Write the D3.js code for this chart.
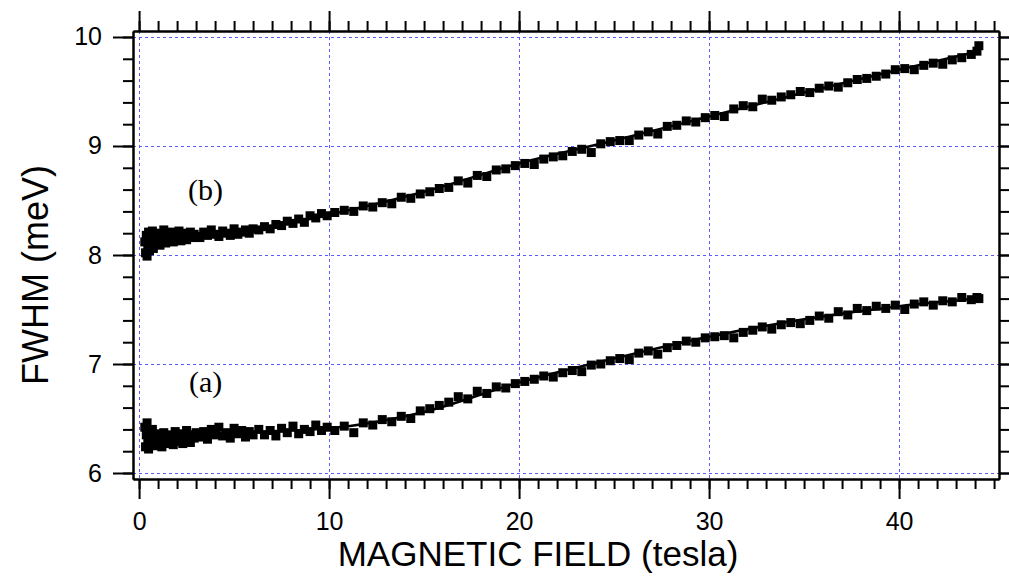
<!DOCTYPE html>
<html>
<head>
<meta charset="utf-8">
<script src="https://cdn.jsdelivr.net/npm/d3@7"></script>
<style>
  body { margin: 0; background: #fff; }
  text { font-family: "Liberation Sans", Arial, sans-serif; }
</style>
</head>
<body>
<svg id="chart" width="1009" height="577"></svg>
<script>
// magnetic field (tesla) for each measured point
const field = [
  0.30,0.34,0.38,0.42,0.46,0.50,0.55,0.60,0.65,0.70,0.75,0.80,0.90,1.00,1.10,1.20,1.30,1.40,1.50,1.60,
  1.70,1.80,1.90,2.00,2.10,2.20,2.30,2.40,2.50,2.60,2.70,2.80,2.90,3.00,
  3.2,3.4,3.6,3.8,4.0,4.2,4.4,4.6,4.8,5.0,5.2,5.4,5.6,5.8,6.0,
  6.3,6.6,6.9,7.2,7.5,7.8,8.1,8.4,8.7,9.0,9.3,9.6,9.9,
  10.3,10.8,11.3,11.8,12.3,12.8,13.3,13.8,14.3,14.8,15.3,15.8,16.3,16.8,17.3,17.8,18.3,18.8,19.3,19.8,
  20.3,20.8,21.3,21.8,22.3,22.8,23.3,23.8,24.3,24.8,25.3,25.8,26.3,26.8,27.3,27.8,28.3,28.8,29.3,29.8,
  30.3,30.8,31.3,31.8,32.3,32.8,33.3,33.8,34.3,34.8,35.3,35.8,36.3,36.8,37.3,37.8,38.3,38.8,39.3,39.8,
  40.3,40.8,41.3,41.8,42.3,42.8,43.3,43.8,44.1,44.2
];

// (a) FWHM (meV)
const fwhmA = [
  6.42,6.24,6.35,6.46,6.28,6.22,6.38,6.31,6.26,6.40,6.33,6.25,6.36,6.29,6.34,6.24,6.37,6.30,6.27,6.35,
  6.32,6.26,6.38,6.31,6.29,6.36,6.27,6.33,6.39,6.30,6.28,6.35,6.32,6.37,
  6.33,6.38,6.31,6.40,6.35,6.42,6.34,6.37,6.32,6.41,6.36,6.39,6.33,6.38,6.35,
  6.40,6.35,6.39,6.34,6.41,6.37,6.43,6.36,6.40,6.38,6.44,6.39,6.42,
  6.39,6.43,6.37,6.46,6.44,6.49,6.47,6.52,6.50,6.57,6.59,6.62,6.65,6.70,6.68,6.75,6.73,6.79,6.78,6.82,
  6.84,6.86,6.89,6.88,6.92,6.94,6.93,6.99,7.00,7.03,7.05,7.04,7.10,7.12,7.09,7.15,7.17,7.21,7.20,7.24,
  7.25,7.26,7.24,7.29,7.31,7.34,7.32,7.36,7.38,7.37,7.40,7.44,7.42,7.48,7.45,7.51,7.49,7.53,7.51,7.54,
  7.50,7.55,7.57,7.54,7.58,7.57,7.61,7.59,7.61,7.60
];

// (b) FWHM (meV)
const fwhmB = [
  8.12,8.02,8.18,7.99,8.08,8.21,8.04,8.15,8.10,8.22,8.06,8.17,8.13,8.20,8.09,8.16,8.23,8.11,8.18,8.14,
  8.21,8.12,8.19,8.15,8.22,8.13,8.17,8.20,8.14,8.18,8.21,8.16,8.19,8.17,
  8.16,8.21,8.18,8.23,8.19,8.17,8.22,8.20,8.18,8.24,8.19,8.21,8.23,8.20,8.24,
  8.23,8.26,8.24,8.28,8.27,8.31,8.29,8.33,8.30,8.36,8.34,8.38,8.36,
  8.39,8.41,8.40,8.45,8.44,8.48,8.47,8.53,8.52,8.56,8.58,8.61,8.62,8.68,8.66,8.73,8.72,8.78,8.79,8.82,
  8.84,8.83,8.88,8.90,8.91,8.95,8.97,8.94,9.02,9.04,9.05,9.05,9.10,9.13,9.11,9.18,9.19,9.23,9.22,9.26,
  9.28,9.27,9.34,9.37,9.36,9.43,9.42,9.45,9.47,9.50,9.49,9.53,9.55,9.54,9.58,9.61,9.62,9.64,9.66,9.70,
  9.71,9.70,9.74,9.76,9.75,9.79,9.81,9.84,9.87,9.92
];

// fitted curves
const fitField = [0.3, 5, 10, 15, 20, 25, 30, 35, 40, 44.2];
const fitA = [6.33, 6.37, 6.41, 6.56, 6.83, 7.05, 7.25, 7.41, 7.53, 7.60];
const fitB = [8.12, 8.20, 8.37, 8.58, 8.84, 9.05, 9.27, 9.49, 9.70, 9.87];

const xTicks = [0, 10, 20, 30, 40];
const yTicks = [6, 7, 8, 9, 10];
const xMinor = d3.range(0, 46, 1);
const yMinor = d3.range(0, 21).map(i => +(6 + i * 0.2).toFixed(1));

const labels = [{text: "(b)", x: 3.5, y: 8.50}, {text: "(a)", x: 3.5, y: 6.74}];

const svg = d3.select("#chart");

const x = d3.scaleLinear().domain([-0.32, 45.26]).range([133, 999]);
const y = d3.scaleLinear().domain([5.945, 10.055]).range([479, 31]);
const [x0, x1] = x.range();
const [y0, y1] = y.range();

// dashed grid
const grid = svg.append("g")
  .attr("stroke", "#5c5cff")
  .attr("stroke-width", 1)
  .attr("stroke-dasharray", "3,3");
grid.selectAll(".gx").data(xTicks).join("line")
  .attr("x1", d => Math.round(x(d)) + 0.5).attr("x2", d => Math.round(x(d)) + 0.5)
  .attr("y1", y1).attr("y2", y0);
grid.selectAll(".gy").data(yTicks).join("line")
  .attr("x1", x0).attr("x2", x1)
  .attr("y1", d => Math.round(y(d)) + 0.5).attr("y2", d => Math.round(y(d)) + 0.5);

// axes: minor ticks (no labels) then major ticks
function styleAxis(g) {
  g.selectAll("path, line").attr("stroke", "#000").attr("stroke-width", 2);
  g.selectAll("text").attr("font-size", 25).attr("fill", "#000")
    .style("font-family", "'Liberation Sans', Arial, sans-serif");
}
const fmt = d3.format("d");

svg.append("g").attr("transform", `translate(0,${y0})`)
  .call(d3.axisBottom(x).tickValues(xMinor).tickSize(10).tickSizeOuter(0).tickFormat(""))
  .call(styleAxis);
svg.append("g").attr("transform", `translate(0,${y0})`)
  .call(d3.axisBottom(x).tickValues(xTicks).tickSize(20).tickSizeOuter(0).tickPadding(13).tickFormat(fmt))
  .call(styleAxis);

svg.append("g").attr("transform", `translate(0,${y1})`)
  .call(d3.axisTop(x).tickValues(xMinor).tickSize(10).tickSizeOuter(0).tickFormat(""))
  .call(styleAxis);
svg.append("g").attr("transform", `translate(0,${y1})`)
  .call(d3.axisTop(x).tickValues(xTicks).tickSize(20).tickSizeOuter(0).tickFormat(""))
  .call(styleAxis);

svg.append("g").attr("transform", `translate(${x0},0)`)
  .call(d3.axisLeft(y).tickValues(yMinor).tickSize(10).tickSizeOuter(0).tickFormat(""))
  .call(styleAxis);
svg.append("g").attr("transform", `translate(${x0},0)`)
  .call(d3.axisLeft(y).tickValues(yTicks).tickSize(20).tickSizeOuter(0).tickPadding(11).tickFormat(fmt))
  .call(styleAxis);

svg.append("g").attr("transform", `translate(${x1},0)`)
  .call(d3.axisRight(y).tickValues(yMinor).tickSize(10).tickSizeOuter(0).tickFormat(""))
  .call(styleAxis);
svg.append("g").attr("transform", `translate(${x1},0)`)
  .call(d3.axisRight(y).tickValues(yTicks).tickSize(20).tickSizeOuter(0).tickFormat(""))
  .call(styleAxis);

// fit lines
const line = d3.line()
  .x((d, i) => x(fitField[i]))
  .y(d => y(d))
  .curve(d3.curveMonotoneX);

svg.append("g")
  .attr("fill", "none")
  .attr("stroke", "#000")
  .attr("stroke-width", 2.5)
  .selectAll("path")
  .data([fitA, fitB])
  .join("path")
  .attr("d", d => line(d));

// data squares
const size = 9;
[fwhmA, fwhmB].forEach(series => {
  svg.append("g").attr("fill", "#000")
    .selectAll("rect")
    .data(series)
    .join("rect")
    .attr("x", (d, i) => x(field[i]) - size / 2)
    .attr("y", d => y(d) - size / 2)
    .attr("width", size)
    .attr("height", size);
});

// panel labels
svg.append("g").selectAll("text")
  .data(labels)
  .join("text")
  .attr("x", d => x(d.x))
  .attr("y", d => y(d.y))
  .attr("text-anchor", "middle")
  .style("font-family", "'Liberation Serif', 'Times New Roman', serif")
  .attr("font-size", 30)
  .text(d => d.text);

// axis titles
svg.append("text")
  .attr("x", 538)
  .attr("y", 566)
  .attr("text-anchor", "middle")
  .attr("font-size", 35)
  .text("MAGNETIC FIELD (tesla)");

svg.append("text")
  .attr("transform", "translate(48,275) rotate(-90)")
  .attr("text-anchor", "middle")
  .attr("font-size", 36)
  .text("FWHM (meV)");
</script>
</body>
</html>
